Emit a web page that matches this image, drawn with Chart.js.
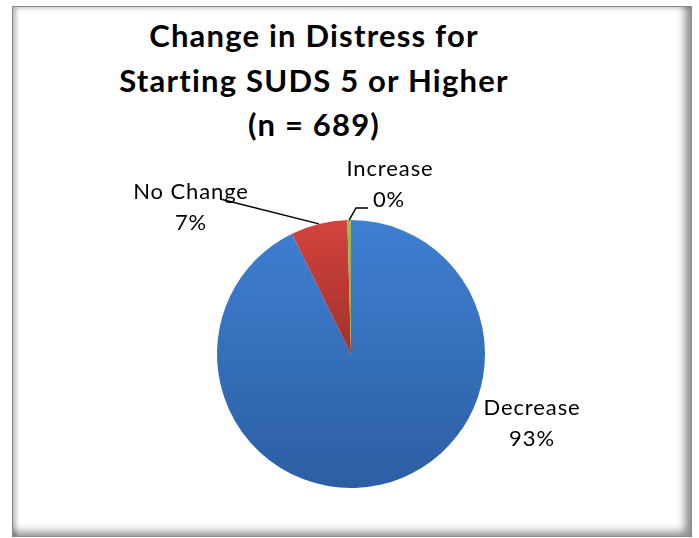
<!DOCTYPE html>
<html>
<head>
<meta charset="utf-8">
<script src="https://cdn.jsdelivr.net/npm/chart.js@4.4.1/dist/chart.umd.min.js"></script>
<style>
    html, body { margin: 0; padding: 0; background: #fff; }
    #wrap { position: relative; width: 699px; height: 538px; overflow: hidden; }
    #frame {
        position: absolute; left: 12px; top: 6px; width: 678px; height: 529px;
        border: 1px solid #8a8a8a;
        box-shadow: inset 5px 3px 4px -2px rgba(0,0,0,0.28), inset -10px -8px 8px -4px rgba(0,0,0,0.45);
    }
    #title {
        position: absolute; left: 94px; top: 13px; width: 440px;
        text-align: center; font: bold 31px Lato, sans-serif; letter-spacing: 1.2px;
        line-height: 44.5px; color: #000;
    }
    #pie { position: absolute; left: 0; top: 0; }
</style>
</head>
<body>
<div id="wrap">
    <div id="frame"></div>
    <div id="title"></div>
    <canvas id="pie" width="699" height="538"></canvas>
</div>
<script>
const titleLines = ['Change in Distress for', 'Starting SUDS 5 or Higher', '(n = 689)'];
const categories = ['Decrease', 'No Change', 'Increase'];
const counts = [639, 47, 3];
const sliceColors = [['#3f80d2', '#2c5ea2'], ['#d3433d', '#a2302d'], ['#9bbb59', '#8aab48']];

document.getElementById('title').innerHTML = titleLines.join('<br>');

// etiquetas das fatias com linhas de chamada
const sliceLabels = {
    id: 'sliceLabels',
    afterDatasetsDraw(chart, args, opts) {
        const ctx = chart.ctx;
        const total = counts.reduce((a, b) => a + b, 0);
        chart.getDatasetMeta(0).data.forEach((arc, i) => {
            const p = arc.getProps(['x', 'y', 'startAngle', 'endAngle', 'outerRadius'], true);
            const mid = (p.startAngle + p.endAngle) / 2;
            const ex = p.x + Math.cos(mid) * p.outerRadius;
            const ey = p.y + Math.sin(mid) * p.outerRadius;
            const spot = opts.spots[i];
            const lx = p.x + spot.dx, ly = p.y + spot.dy;

            ctx.save();
            if (spot.leader) {
                ctx.strokeStyle = '#000';
                ctx.lineWidth = 1.5;
                ctx.beginPath();
                ctx.moveTo(ex, ey);
                spot.leader.forEach(pt => ctx.lineTo(lx + pt[0], ly + pt[1]));
                ctx.stroke();
            }
            ctx.fillStyle = '#000';
            ctx.font = '22px Lato, sans-serif';
            ctx.letterSpacing = '0.9px';
            ctx.textAlign = 'center';
            ctx.textBaseline = 'alphabetic';
            ctx.fillText(categories[i], lx, ly);
            ctx.fillText(Math.round(counts[i] / total * 100) + '%', lx + (spot.dx2 || 0), ly + 31);
            ctx.restore();
        });
    }
};

new Chart(document.getElementById('pie').getContext('2d'), {
    type: 'pie',
    data: {
        labels: categories,
        datasets: [{
            data: counts,
            borderWidth: 0,
            backgroundColor: (c) => {
                const i = c.dataIndex;
                const area = c.chart.chartArea;
                if (!area) return sliceColors[i][0];
                const bottom = i === 0 ? area.bottom : (area.top + area.bottom) / 2;
                const g = c.chart.ctx.createLinearGradient(0, area.top, 0, bottom);
                g.addColorStop(0, sliceColors[i][0]);
                g.addColorStop(1, sliceColors[i][1]);
                return g;
            }
        }]
    },
    options: {
        responsive: false,
        animation: false,
        events: [],
        layout: { padding: { left: 217, right: 214, top: 220, bottom: 50 } },
        plugins: {
            legend: { display: false },
            tooltip: { enabled: false },
            title: { display: false },
            sliceLabels: {
                spots: [
                    { dx: 181, dy: 61 },
                    { dx: -160, dy: -155, leader: [[29, 0]] },
                    { dx: 39, dy: -178, dx2: -1, leader: [[-34, 32], [-22, 32]] }
                ]
            }
        }
    },
    plugins: [sliceLabels]
});
</script>
</body>
</html>
